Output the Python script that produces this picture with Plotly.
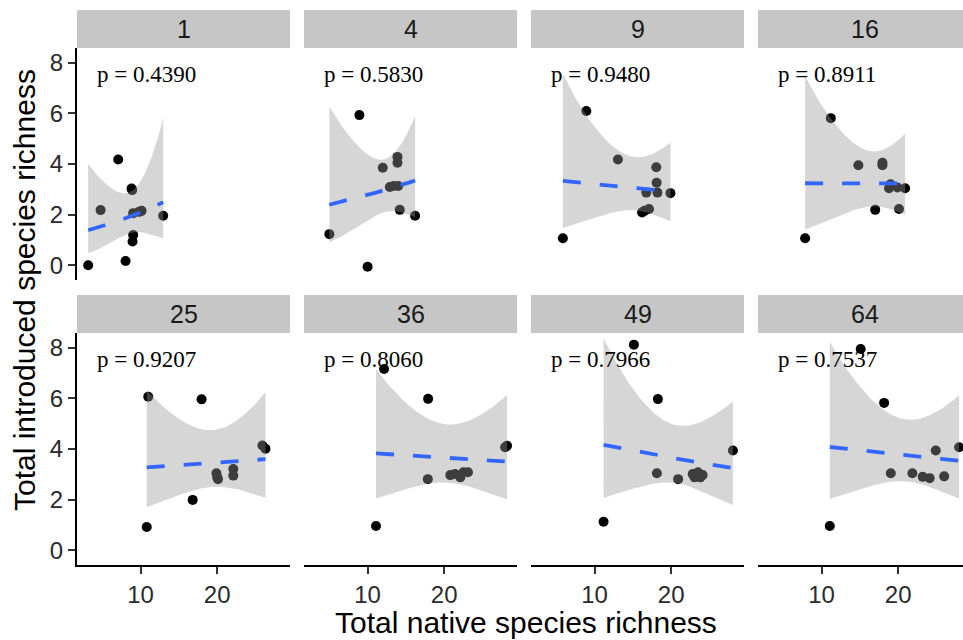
import numpy as np
import plotly.graph_objects as go

# ---------------- data ----------------
facets = ["1", "4", "9", "16", "25", "36", "49", "64"]
p_labels = ["p = 0.4390", "p = 0.5830", "p = 0.9480", "p = 0.8911",
            "p = 0.9207", "p = 0.8060", "p = 0.7966", "p = 0.7537"]

x_1 = [3.16, 4.78, 7.08, 8.04, 8.82, 8.90, 9.03, 9.80, 10.13, 9.03, 8.95, 12.95]
y_1 = [0.0, 2.18, 4.18, 0.17, 3.03, 2.97, 2.06, 2.11, 2.15, 1.20, 0.94, 1.96]

x_4 = [5.01, 8.93, 10.0, 11.98, 13.9, 13.9, 12.9, 13.4, 14.0, 14.2, 16.2]
y_4 = [1.23, 5.93, -0.06, 3.85, 4.28, 4.05, 3.09, 3.13, 3.13, 2.19, 1.96]

x_9 = [5.86, 8.92, 13.04, 18.05, 18.1, 16.75, 18.2, 19.9, 16.2, 16.5, 17.1]
y_9 = [1.07, 6.09, 4.18, 3.87, 3.26, 2.87, 2.87, 2.85, 2.09, 2.15, 2.22]

x_16 = [7.85, 11.2, 14.8, 17.94, 17.94, 19.0, 18.8, 19.9, 20.9, 17.0, 20.1]
y_16 = [1.07, 5.81, 3.95, 4.05, 3.95, 3.20, 3.04, 3.07, 3.04, 2.19, 2.22]

x_25 = [10.8, 11.0, 16.8, 17.96, 19.9, 20.0, 20.1, 22.1, 22.1, 25.9, 26.3]
y_25 = [0.92, 6.06, 1.99, 5.96, 3.04, 2.88, 2.81, 3.21, 2.95, 4.14, 4.01]

x_36 = [11.1, 12.15, 17.86, 17.9, 20.8, 21.4, 22.1, 22.5, 23.1, 27.95, 28.2]
y_36 = [0.96, 7.16, 2.81, 5.98, 2.97, 3.01, 2.88, 3.08, 3.08, 4.07, 4.13]

x_49 = [11.17, 15.13, 18.13, 18.26, 20.9, 22.8, 23.5, 24.1, 23.05, 23.8, 28.05]
y_49 = [1.13, 8.12, 3.04, 5.97, 2.81, 3.01, 3.08, 2.97, 2.88, 2.88, 3.94]

x_64 = [11.07, 15.1, 18.16, 19.03, 21.85, 23.2, 24.1, 26.0, 24.9, 27.95]
y_64 = [0.96, 7.95, 5.82, 3.04, 3.04, 2.90, 2.85, 2.92, 3.94, 4.07]

x_ticks = [10, 20]
y_ticks = [0, 2, 4, 6, 8]

xs_all = [x_1, x_4, x_9, x_16, x_25, x_36, x_49, x_64]
ys_all = [y_1, y_4, y_9, y_16, y_25, y_36, y_49, y_64]

# ---------------- layout geometry (pixels) ----------------
W, H = 963, 640
col_px = [(77, 290), (304, 517), (531, 744), (758, 971)]
row_px = [(48, 280), (333, 565)]        # plot areas
strip_px = [(10, 48), (295, 333)]
X_RANGE = [1.7, 29.5]
Y_RANGE = [-0.58, 8.58]
px_per_x = (col_px[0][1] - col_px[0][0]) / (X_RANGE[1] - X_RANGE[0])

FONT = "Liberation Sans, Arial, sans-serif"
SERIF = "Liberation Serif, Times New Roman, serif"


def poisson_smooth(x, y, n=80):
    x = np.asarray(x, float)
    y = np.asarray(y, float)
    X = np.column_stack([np.ones_like(x), x])
    beta = np.array([np.log(max(y.mean(), 1e-3)), 0.0])
    for _ in range(60):
        eta = X @ beta
        mu = np.exp(eta)
        z = eta + (y - mu) / mu
        XtW = X.T * mu
        beta = np.linalg.solve(XtW @ X, XtW @ z)
    mu = np.exp(X @ beta)
    cov = np.linalg.inv((X.T * mu) @ X)
    grid = np.linspace(x.min(), x.max(), n)
    G = np.column_stack([np.ones_like(grid), grid])
    eta = G @ beta
    se = np.sqrt(np.einsum("ij,jk,ik->i", G, cov, G))
    return grid, np.exp(eta), np.exp(eta - 1.96 * se), np.exp(eta + 1.96 * se)


fig = go.Figure()
layout = dict(
    width=W, height=H, margin=dict(l=0, r=0, t=0, b=0),
    paper_bgcolor="white", plot_bgcolor="white", showlegend=False,
    font=dict(family=FONT, color="#1a1a1a"),
)
shapes = []
annotations = []

for i, name in enumerate(facets):
    r, c = divmod(i, 4)
    k = "" if i == 0 else str(i + 1)
    x0p, x1p = col_px[c]
    x1p_vis = min(x1p, W)
    xr = [X_RANGE[0], X_RANGE[0] + (x1p_vis - x0p) / px_per_x]
    y0p, y1p = row_px[r]

    xaxis = dict(
        domain=[x0p / W, x1p_vis / W], range=xr, anchor="y" + k,
        showgrid=False, zeroline=False, fixedrange=True,
    )
    if r == 1:
        xaxis.update(showline=True, linecolor="black", linewidth=2,
                     ticks="outside", ticklen=7, tickwidth=2, tickcolor="#333333",
                     tickvals=x_ticks, tickfont=dict(size=24, color="#2a2a2a", family=FONT))
    else:
        xaxis.update(showline=False, showticklabels=False, ticks="")
    yaxis = dict(
        domain=[1 - y1p / H, 1 - y0p / H], range=Y_RANGE, anchor="x" + k,
        showgrid=False, zeroline=False, fixedrange=True,
    )
    if c == 0:
        yaxis.update(showline=True, linecolor="black", linewidth=2,
                     ticks="outside", ticklen=7, tickwidth=2, tickcolor="#333333",
                     tickvals=y_ticks, tickfont=dict(size=24, color="#2a2a2a", family=FONT))
    else:
        yaxis.update(showline=False, showticklabels=False, ticks="")
    layout["xaxis" + k] = xaxis
    layout["yaxis" + k] = yaxis

    xa, ya = "x" + k, "y" + k
    xd, yd = xs_all[i], ys_all[i]

    # points (drawn first, band drawn over them as in ggplot)
    fig.add_trace(go.Scatter(x=xd, y=yd, mode="markers", xaxis=xa, yaxis=ya,
                             marker=dict(size=10, color="black", line=dict(width=0)),
                             cliponaxis=True, hoverinfo="skip"))
    grid, fit, lo, hi = poisson_smooth(xd, yd)
    fig.add_trace(go.Scatter(x=np.concatenate([grid, grid[::-1]]),
                             y=np.concatenate([hi, lo[::-1]]),
                             mode="lines", fill="toself", xaxis=xa, yaxis=ya,
                             fillcolor="rgba(153,153,153,0.4)", line=dict(width=0),
                             hoverinfo="skip"))
    fig.add_trace(go.Scatter(x=grid, y=fit, mode="lines", xaxis=xa, yaxis=ya,
                             line=dict(color="#3366FF", width=3.8, dash="18px,19px"),
                             hoverinfo="skip"))

    # strip
    sy0, sy1 = strip_px[r]
    shapes.append(dict(type="rect", xref="paper", yref="paper",
                       x0=x0p / W, x1=x1p / W, y0=1 - sy1 / H, y1=1 - sy0 / H,
                       fillcolor="#C6C6C6", line=dict(width=0), layer="below"))
    annotations.append(dict(text=name, xref="paper", yref="paper",
                            x=(x0p + x1p) / 2 / W, y=1 - (sy0 + sy1) / 2 / H,
                            xanchor="center", yanchor="middle", showarrow=False,
                            font=dict(size=25, color="#1a1a1a", family=FONT)))
    # p-value
    annotations.append(dict(text=p_labels[i], xref=xa, yref=ya, x=4.0, y=7.55,
                            xanchor="left", yanchor="middle", showarrow=False,
                            font=dict(size=23, color="black", family=SERIF)))

annotations.append(dict(text="Total native species richness", xref="paper", yref="paper",
                        x=526 / W, y=1 - 622 / H, xanchor="center", yanchor="middle",
                        showarrow=False, font=dict(size=30, color="black", family=FONT)))
annotations.append(dict(text="Total introduced species richness", xref="paper", yref="paper",
                        x=24 / W, y=1 - 290 / H, xanchor="center", yanchor="middle",
                        textangle=-90, showarrow=False,
                        font=dict(size=30, color="black", family=FONT)))

layout["shapes"] = shapes
layout["annotations"] = annotations
fig.update_layout(**layout)
fig.write_html("out.html")
